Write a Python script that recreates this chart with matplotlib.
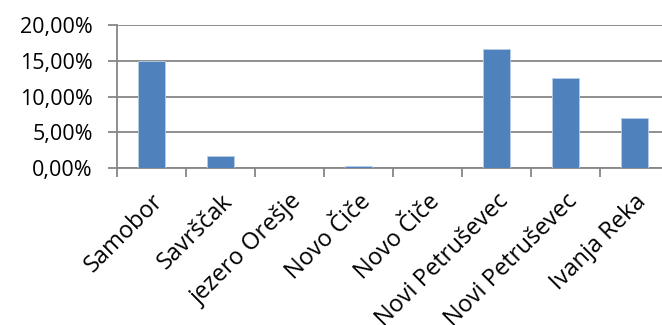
import numpy as np
import matplotlib as mpl
mpl.use('Agg')
import matplotlib.pyplot as plt
from matplotlib.ticker import FuncFormatter

plt.rcParams['font.family'] = ['Open Sans', 'DejaVu Sans']

locations = ["Samobor", "Savrščak", "jezero Orešje", "Novo Čiče", "Novo Čiče",
             "Novi Petruševec", "Novi Petruševec", "Ivanja Reka"]
shares = [15.0, 1.7, 0.0, 0.3, 0.0, 16.6, 12.6, 6.95]
y_ticks = [0, 5, 10, 15, 20]

grey = '#868686'
fig = plt.figure(figsize=(6.62, 3.25), dpi=100)
ax = fig.add_axes([117/662, 1-168/325, 552/662, 143/325])

x = np.arange(len(locations))
ax.bar(x, shares, width=0.4, color='#4F81BD', edgecolor='#B9CDE5', linewidth=0.6, zorder=3)

ax.set_xlim(-0.5, len(locations) - 0.5)
ax.set_ylim(0, 20)
ax.set_yticks(y_ticks)
ax.yaxis.set_major_formatter(FuncFormatter(lambda v, p: f"{v:.2f}".replace('.', ',') + "%"))
ax.yaxis.grid(True, color=grey, linewidth=1.3, zorder=0)
ax.tick_params(axis='y', length=6.5, width=1.3, color=grey, pad=11, labelsize=15.5)

ax.set_xticks(np.arange(len(locations) + 1) - 0.5)
ax.set_xticklabels([])
ax.tick_params(axis='x', length=6.5, width=1.3, color=grey)
for i, name in enumerate(locations):
    ax.text(i + 0.12, -4.2, name, rotation=45, rotation_mode='anchor',
            ha='right', va='center', fontsize=17, clip_on=False)

for s in ['top', 'right']:
    ax.spines[s].set_visible(False)
for s in ['left', 'bottom']:
    ax.spines[s].set_color(grey)
    ax.spines[s].set_linewidth(1.3)

fig.savefig('out.png', dpi=100)
